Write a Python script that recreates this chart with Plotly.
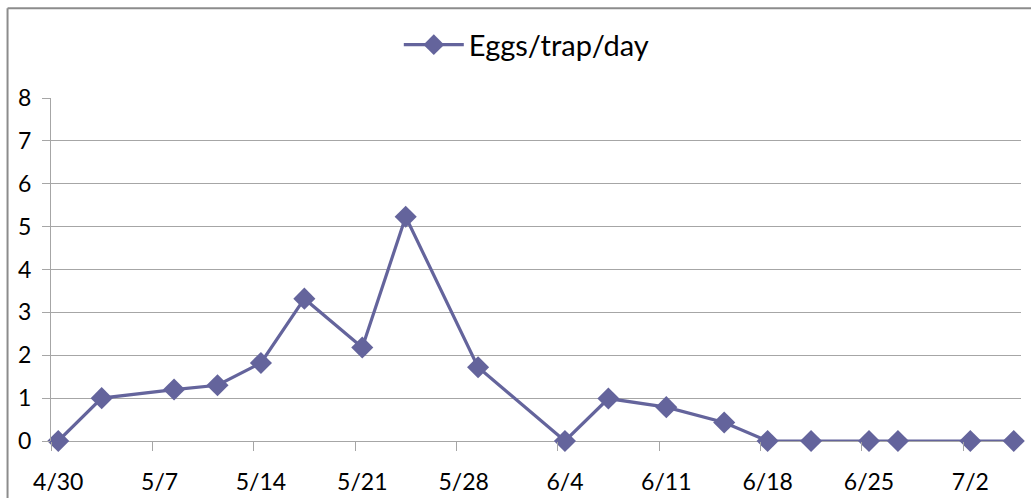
import pandas as pd
import plotly.graph_objects as go

year = "2013"
dates = ["04-30", "05-03", "05-08", "05-11", "05-14", "05-17", "05-21", "05-24", "05-29",
         "06-04", "06-07", "06-11", "06-15", "06-18", "06-21", "06-25", "06-27", "07-02", "07-05"]
eggs = [0, 1.0, 1.2, 1.3, 1.82, 3.32, 2.18, 5.23, 1.72,
        0, 0.99, 0.79, 0.43, 0, 0, 0, 0, 0, 0]
tick_dates = ["04-30", "05-07", "05-14", "05-21", "05-28", "06-04", "06-11", "06-18", "06-25", "07-02"]
tick_labels = ["4/30", "5/7", "5/14", "5/21", "5/28", "6/4", "6/11", "6/18", "6/25", "7/2"]
series_name = "Eggs/trap/day"

# Excel date axis: each point sits in the middle of its day slot
half_day = pd.Timedelta(hours=12)
x = pd.to_datetime([f"{year}-{d}" for d in dates]) + half_day
tickvals = pd.to_datetime([f"{year}-{d}" for d in tick_dates]) + half_day

color = "#64649C"
grid = "#A6A6A6"

fig = go.Figure()
fig.add_trace(go.Scatter(
    x=x, y=eggs, mode="lines+markers", name=series_name,
    line=dict(color=color, width=3.2),
    marker=dict(symbol="diamond", size=17, color=color),
    cliponaxis=False,
))

fig.update_layout(
    width=1031, height=498,
    margin=dict(l=51, r=10, t=98, b=57, autoexpand=False),
    paper_bgcolor="white", plot_bgcolor="white",
    font=dict(family="Lato, Carlito, Calibri, sans-serif", size=23, color="black"),
    showlegend=True,
    legend=dict(orientation="h", x=0.49, xanchor="center", y=1.155, yanchor="middle",
                font=dict(size=29), itemwidth=60, bgcolor="rgba(0,0,0,0)"),
    xaxis=dict(
        type="date", automargin=False,
        range=[f"{year}-04-30", f"{year}-07-06"],
        tickmode="array", tickvals=tickvals, ticktext=tick_labels,
        ticks="outside", ticklen=10, tickcolor="rgba(0,0,0,0)",
        ticklabelstandoff=10,
        showgrid=False, showline=False, zeroline=False,
        minor=dict(tick0=f"{year}-04-30", dtick=7 * 86400000, ticks="outside",
                   ticklen=9, tickcolor=grid, tickwidth=1, showgrid=False),
        tickfont=dict(size=23),
    ),
    yaxis=dict(
        range=[0, 8], dtick=1, automargin=False,
        showgrid=True, gridcolor=grid, gridwidth=1,
        zeroline=True, zerolinecolor=grid, zerolinewidth=1,
        showline=True, linecolor=grid, linewidth=1,
        ticks="outside", ticklen=8, tickcolor=grid,
        ticklabelstandoff=6,
        tickfont=dict(size=23),
    ),
    shapes=[
        dict(type="line", xref="paper", yref="paper", x0=-0.0448, x1=-0.0448, y0=-0.3, y1=1.262,
             line=dict(color="#8C8C8C", width=2)),
        dict(type="line", xref="paper", yref="paper", x0=-0.0448, x1=1.05, y0=1.262, y1=1.262,
             line=dict(color="#8C8C8C", width=2)),
    ],
)

fig.write_html("out.html", config={"displayModeBar": False},
               post_script="document.body.style.margin='0';")
